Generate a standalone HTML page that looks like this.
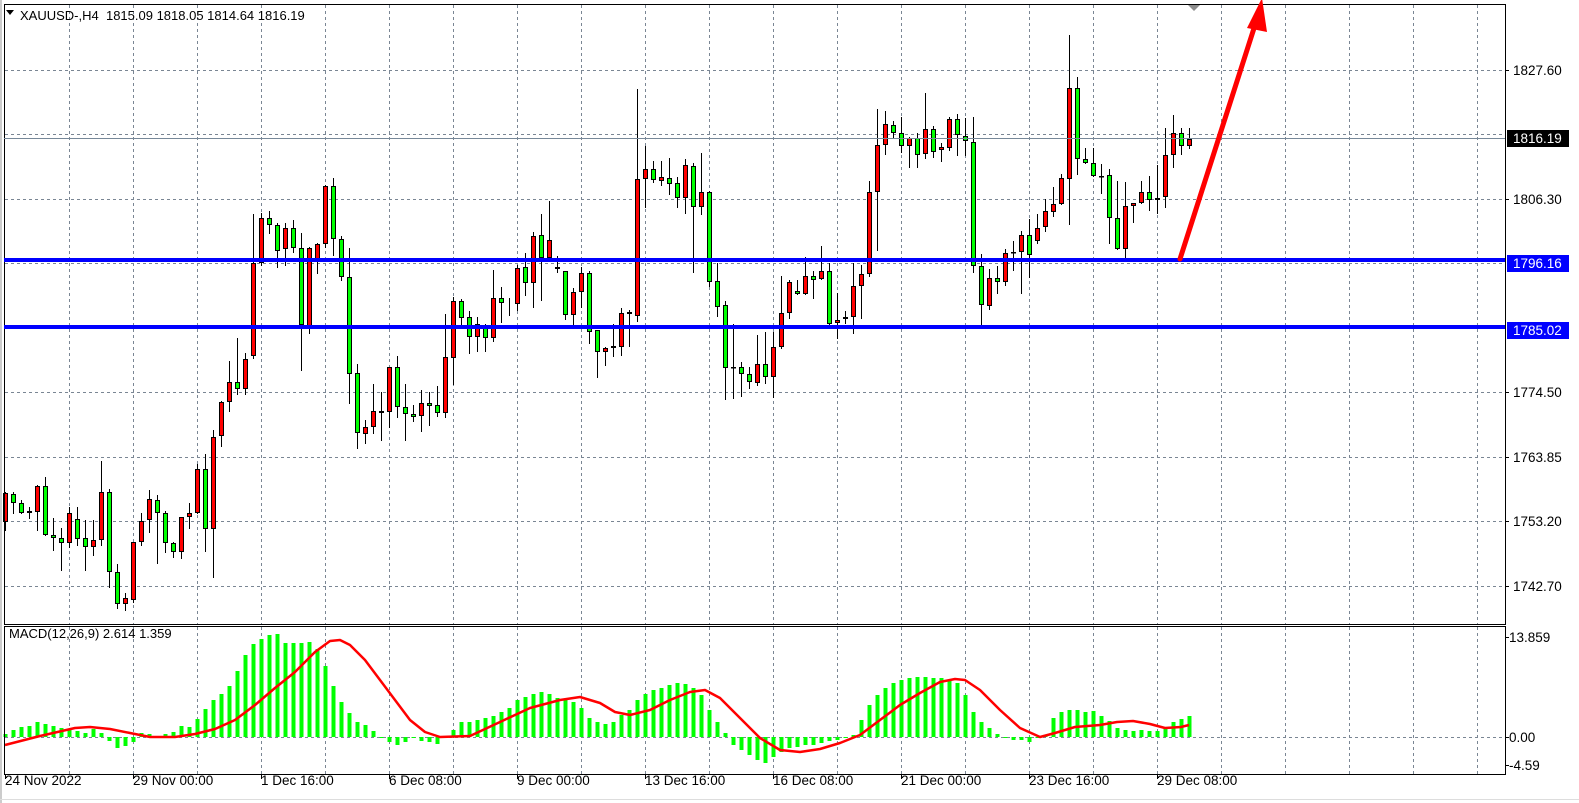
<!DOCTYPE html>
<html><head><meta charset="utf-8"><style>
html,body{margin:0;padding:0;background:#fff;}
svg{display:block;font-family:"Liberation Sans",sans-serif;}
</style></head><body>
<svg id="s" width="1579" height="803" xmlns="http://www.w3.org/2000/svg">
<rect x="0" y="0" width="1579" height="803" fill="#fff"/>
<g id="grid"></g>
<g id="cand"></g>
<g id="macd"></g>
<rect x="4.5" y="4.5" width="1501" height="620" fill="none" stroke="#000" stroke-width="1"/>
<rect x="4.5" y="626.5" width="1501" height="148" fill="none" stroke="#000" stroke-width="1"/>
<line x1="1" y1="0" x2="1" y2="803" stroke="#999"/>
<line x1="0" y1="799.5" x2="1579" y2="799.5" stroke="#ddd"/>
<line x1="4" y1="138.5" x2="1505" y2="138.5" stroke="#778899" stroke-width="1"/>
<line x1="4" y1="260" x2="1505" y2="260" stroke="#0000ff" stroke-width="4"/>
<line x1="4" y1="327" x2="1505" y2="327" stroke="#0000ff" stroke-width="4"/>
<line x1="1180" y1="259" x2="1256" y2="22" stroke="#ff0000" stroke-width="5" stroke-linecap="round"/>
<polygon points="1262,-2 1247,28 1267,32" fill="#ff0000"/>
<polygon points="1188,5 1200,5 1194,11" fill="#8c8c8c"/>
<polygon points="6,10 14,10 10,15" fill="#000"/>
<text x="20" y="20" font-size="13" fill="#000" style="white-space:pre">XAUUSD-,H4  1815.09 1818.05 1814.64 1816.19</text>
<g id="axis" font-size="13.5" fill="#000"></g>
<text x="9" y="638" font-size="13">MACD(12,26,9) 2.614 1.359</text>
</svg>
<script>
const NS="http://www.w3.org/2000/svg";
function el(p,t,a,txt){const e=document.createElementNS(NS,t);for(const k in a)e.setAttribute(k,a[k]);if(txt!==undefined)e.textContent=txt;document.getElementById(p).appendChild(e);return e;}
const vx=[];for(let x=69;x<1505;x+=64)vx.push(x);
vx.forEach(x=>{el('grid','line',{x1:x+.5,y1:5,x2:x+.5,y2:624,stroke:'#7a8694','stroke-dasharray':'3,3'});
el('grid','line',{x1:x+.5,y1:627,x2:x+.5,y2:774,stroke:'#7a8694','stroke-dasharray':'3,3'});});
[70,134,199,263,328,392,457,521,586].forEach(y=>el('grid','line',{x1:5,y1:y+.5,x2:1505,y2:y+.5,stroke:'#7a8694','stroke-dasharray':'3,3'}));
el('grid','line',{x1:5,y1:737.5,x2:1505,y2:737.5,stroke:'#7a8694','stroke-dasharray':'3,3'});
const C=`r 492 493 522 530;g 492 494 503 513;g 500 503 513 513;r 507 511 513 518;r 485 486 512 530;g 477 486 535 535;g 518 535 538 550;g 528 538 543 570;r 507 513 543 547;g 507 519 539 545;g 520 538 547 570;r 520 540 547 555;r 461 492 540 545;g 489 492 572 587;g 564 572 604 608;r 593 598 604 610;r 542 542 600 602;r 513 521 542 545;r 490 499 520 532;g 495 500 513 563;g 511 513 543 552;g 542 543 552 557;r 517 517 552 558;r 503 513 517 528;r 464 469 513 513;g 454 469 529 551;r 430 437 529 577;r 401 402 436 446;r 361 382 402 411;g 338 382 389 394;r 353 359 389 394;r 214 263 356 358;r 213 218 263 265;g 211 218 225 233;g 223 225 251 267;r 223 228 249 265;g 220 228 248 252;g 233 248 325 370;r 247 248 327 333;r 243 244 262 273;r 185 186 244 247;g 178 186 239 255;g 236 239 277 280;g 248 277 374 403;g 364 373 433 448;r 420 427 434 443;r 384 411 427 433;g 392 411 413 440;r 367 367 412 427;g 356 367 407 417;g 384 407 414 440;g 405 414 417 421;r 390 403 416 431;g 392 403 406 425;g 386 405 413 416;r 314 357 413 417;r 297 301 358 384;g 299 301 318 328;g 311 317 337 353;r 317 324 337 351;g 324 326 338 351;r 270 298 338 341;g 287 298 303 322;g 298 303 304 315;r 265 268 304 310;g 253 267 283 295;r 232 236 283 307;g 214 235 258 300;r 201 240 258 260;g 256 267 269 272;g 271 271 315 319;r 288 292 315 328;r 267 273 292 307;g 271 273 332 343;g 330 330 352 377;r 347 348 352 365;r 324 346 348 356;r 308 313 347 355;g 310 312 314 346;r 89 179 316 321;r 146 169 179 207;g 161 169 180 182;r 161 177 181 185;g 158 178 184 194;g 177 183 198 207;r 159 165 198 213;g 163 166 207 272;r 153 192 207 214;g 191 192 282 286;g 263 281 307 316;g 301 305 368 399;g 324 367 367 398;g 362 367 374 396;g 367 374 382 388;r 335 364 383 385;g 332 364 377 383;r 332 347 377 397;r 276 313 347 348;r 280 282 313 318;g 280 291 294 294;r 257 276 294 294;g 271 276 280 298;r 246 271 279 279;g 263 271 324 327;r 293 320 323 338;r 311 317 319 323;r 263 286 317 333;r 265 274 286 318;r 181 192 274 276;r 109 145 192 250;r 111 124 145 154;g 121 125 133 137;g 117 133 146 152;r 137 138 146 167;g 133 138 155 167;r 93 129 154 158;g 126 129 152 157;r 143 147 150 161;r 117 119 148 150;g 114 119 135 155;g 118 136 141 155;g 117 142 266 272;g 254 266 305 325;r 269 278 306 309;g 266 278 282 293;r 249 253 282 285;g 241 252 252 270;r 231 235 252 293;g 219 235 255 277;r 214 228 241 243;r 199 211 227 231;r 187 204 212 216;r 174 178 204 204;r 35 88 179 224;g 77 88 159 174;g 148 159 163 163;g 148 163 176 176;g 164 176 176 193;g 169 175 218 243;g 181 218 249 249;r 182 206 249 258;r 203 203 206 222;r 181 192 203 203;g 176 192 200 210;r 165 198 200 213;r 128 155 197 207;r 115 133 155 167;g 128 133 146 154;r 128 139 146 148`.split(';');
C.forEach((s,i)=>{const p=s.split(' ');const x=5+8*i;const h=+p[1],t=+p[2],b=+p[3],l=+p[4];
el('cand','line',{x1:x+.5,y1:h,x2:x+.5,y2:l+1,stroke:'#000','stroke-width':1});
if(b-t<1){el('cand','rect',{x:x-2,y:t,width:5,height:1.5,fill:'#000'});}
else el('cand','rect',{x:x-1.5,y:t+.5,width:4,height:b-t-1,fill:p[0]=='r'?'#ff0000':'#00ff00',stroke:'#000','stroke-width':1});});
const H=[734,730,727,726,722,724,726,728,729,731,733,729,733,741,748,746,742,733,734,736,734,732,726,727,719,709,700,694,686,671,655,644,639,635,634,643,643,643,642,649,666,686,702,713,722,725,731,737,742,745,742,738,741,742,744,738,730,722,722,720,718,716,712,708,700,697,694,692,694,698,700,702,708,718,722,724,722,715,710,700,694,690,688,685,683,684,688,695,710,722,733,745,750,755,760,763,757,752,748,747,745,745,743,741,740,738,735,720,705,695,688,683,680,678,677,677,678,678,680,683,695,712,722,728,734,738,740,740,742,738,735,718,712,710,710,712,711,716,721,728,730,731,730,731,731,728,722,719,716];
H.forEach((y,i)=>{const x=5+8*i;const y0=737;const top=Math.min(y,y0),ht=Math.max(1,Math.abs(y-y0));
el('macd','rect',{x:x-1.5,y:top,width:4,height:ht,fill:'#00ff00'});});
const S=[[5,745],[40,736],[75,728],[90,727],[110,729],[130,733],[150,737],[175,737],[195,734],[215,729],[235,720],[255,705],[275,688],[295,672],[315,652],[330,641],[340,640],[350,645],[365,660],[380,680],[395,700],[410,720],[425,732],[440,737],[470,736],[500,722],[530,708],[560,700],[580,697],[600,703],[615,712],[630,715],[650,710],[670,700],[690,692],[705,690],[720,698],[740,718],[760,738],[780,750],[800,752],[820,749],[840,743],[860,735],[880,720],[900,705],[920,693],[940,682],[955,679],[965,680],[980,690],[1000,710],[1020,728],[1040,737],[1055,733],[1075,727],[1100,725],[1117,722],[1133,721],[1150,724],[1165,728],[1181,727],[1189,725]];
el('macd','polyline',{points:S.map(p=>p.join(',')).join(' '),fill:'none',stroke:'#ff0000','stroke-width':2.5,'stroke-linejoin':'round'});
[[70,'1827.60'],[199,'1806.30'],[392,'1774.50'],[457,'1763.85'],[521,'1753.20'],[586,'1742.70']].forEach(([y,t])=>{
el('axis','line',{x1:1505,y1:y+.5,x2:1509,y2:y+.5,stroke:'#000'});el('axis','text',{x:1513,y:y+5},t);});
[[138,'1816.19','#000'],[263,'1796.16','#0000ff'],[330,'1785.02','#0000ff']].forEach(([y,t,c])=>{
el('axis','rect',{x:1507,y:y-8,width:62,height:17,fill:c});el('axis','text',{x:1513,y:y+5,fill:'#fff'},t);});
[[637,'13.859'],[737,'0.00'],[765,'-4.59']].forEach(([y,t])=>{el('axis','line',{x1:1505,y1:y+.5,x2:1509,y2:y+.5,stroke:'#000'});el('axis','text',{x:1509,y:y+5},t);});
[[5,'24 Nov 2022'],[133,'29 Nov 00:00'],[261,'1 Dec 16:00'],[389,'6 Dec 08:00'],[517,'9 Dec 00:00'],[645,'13 Dec 16:00'],[773,'16 Dec 08:00'],[901,'21 Dec 00:00'],[1029,'23 Dec 16:00'],[1157,'29 Dec 08:00']].forEach(([x,t])=>{
el('axis','line',{x1:x+.5,y1:774,x2:x+.5,y2:779,stroke:'#000'});el('axis','text',{x:x,y:785},t);});
</script>
</body></html>
